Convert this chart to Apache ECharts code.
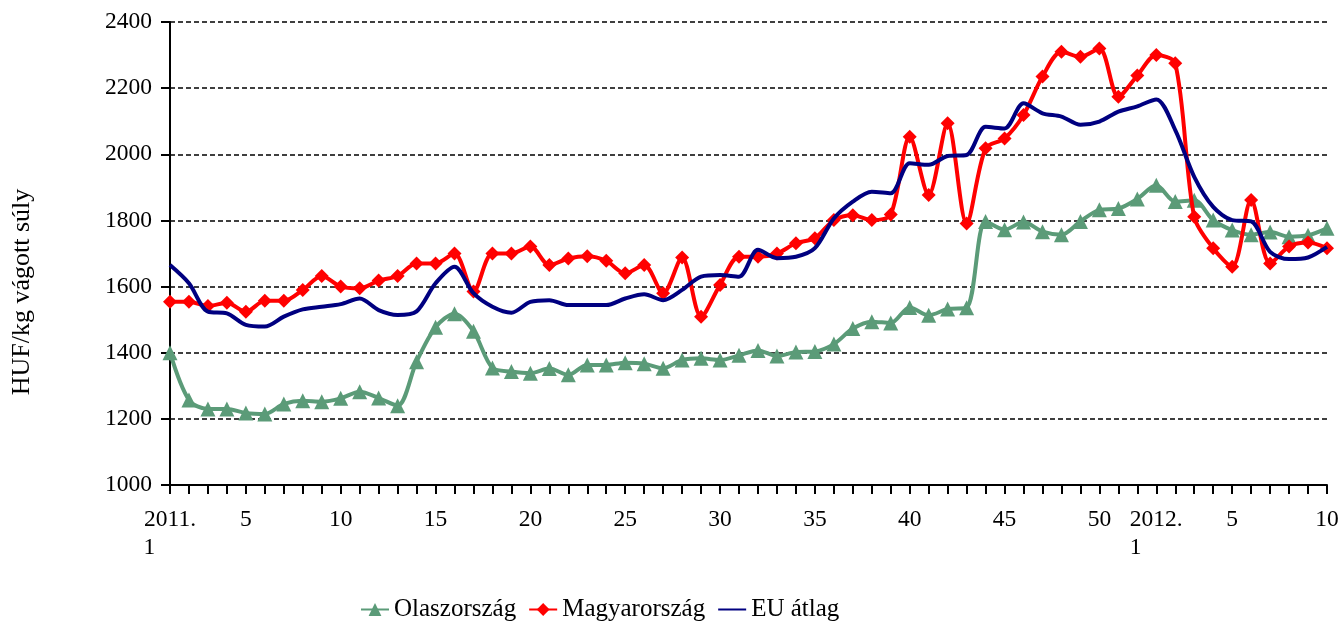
<!DOCTYPE html>
<html>
<head>
<meta charset="utf-8">
<script src="https://cdn.jsdelivr.net/npm/echarts@6/dist/echarts.min.js"></script>
<style>
html,body{margin:0;padding:0;background:#fff;}
#chart{width:1343px;height:621px;}
</style>
</head>
<body>
<div id="chart"></div>
<script>
// Week labels (2011 week 1 .. 2012 week 10), blank = unlabeled tick
var categories = [
'2011.\n1','','','','5','','','','','10',
'','','','','15','','','','','20',
'','','','','25','','','','','30',
'','','','','35','','','','','40',
'','','','','45','','','','','50',
'','','2012.\n1','','','','5','','','',
'','10'];

var seriesNames = ['Olaszország','Magyarország','EU átlag'];

var olaszorszag = [1400,1257,1230,1230,1218,1215,1245,1255,1252,1262,
1282,1263,1240,1373,1477,1518,1465,1354,1343,1338,
1352,1333,1363,1363,1370,1367,1353,1378,1383,1378,
1392,1407,1390,1402,1404,1426,1473,1494,1490,1537,
1513,1532,1536,1797,1772,1795,1766,1757,1797,1832,
1836,1865,1906,1857,1861,1801,1771,1757,1765,1751,
1755,1776];

var magyarorszag = [1554,1554,1541,1551,1524,1557,1557,1590,1632,1600,
1595,1618,1632,1670,1670,1700,1585,1700,1700,1721,
1665,1685,1692,1678,1640,1665,1580,1688,1509,1605,
1690,1690,1700,1731,1746,1801,1816,1801,1818,2053,
1877,2094,1791,2018,2048,2119,2235,2310,2295,2320,
2174,2238,2300,2275,1811,1716,1660,1862,1670,1721,
1733,1716];

var euAtlag = [1665,1610,1524,1519,1484,1479,1509,1531,1539,1547,
1564,1529,1514,1525,1610,1660,1580,1539,1521,1554,
1559,1544,1544,1544,1564,1577,1559,1590,1630,1635,
1630,1711,1686,1690,1716,1806,1857,1887,1882,1973,
1968,1995,1998,2083,2078,2154,2124,2114,2089,2099,
2129,2145,2166,2073,1932,1841,1801,1797,1705,1683,
1688,1720];

var yTitle = 'HUF/kg vágott súly';

var FONT = "'Liberation Serif','Times New Roman',serif";
var chart = echarts.init(document.getElementById('chart'));
chart.setOption({
  animation: false,
  backgroundColor: '#fff',
  textStyle: {fontFamily: FONT},
  grid: {left: 170, right: 16, top: 22, bottom: 136, containLabel: false},
  graphic: [{
    type: 'text', x: 22, y: 292, rotation: Math.PI / 2,
    style: {text: yTitle, font: '26px ' + FONT, fill: '#000', textAlign: 'center', textVerticalAlign: 'middle'}
  }],
  legend: {
    left: 355, top: 592,
    itemWidth: 28, itemHeight: 16, itemGap: 12,
    textStyle: {fontFamily: FONT, fontSize: 25, color: '#000'},
    data: [
      {name: seriesNames[0]},
      {name: seriesNames[1]},
      {name: seriesNames[2], itemStyle: {opacity: 0}}
    ]
  },
  xAxis: {
    type: 'category', data: categories, boundaryGap: false,
    axisLine: {lineStyle: {color: '#000', width: 2}},
    axisTick: {show: true, interval: 0, length: 9, lineStyle: {color: '#000', width: 2}},
    axisLabel: {
      interval: 0, margin: 21, color: '#000', fontFamily: FONT, fontSize: 23.5, lineHeight: 28,
      formatter: function (v) {
        if (v.indexOf('\n') >= 0) {
          var p = v.split('\n');
          return '{a|' + p[0] + '}\n{b|' + p[1] + '}';
        }
        return v;
      },
      rich: {
        a: {fontFamily: FONT, fontSize: 23.5, lineHeight: 28, color: '#000'},
        b: {fontFamily: FONT, fontSize: 23.5, lineHeight: 28, color: '#000', width: 53, align: 'left'}
      }
    },
    splitLine: {show: false}
  },
  yAxis: {
    type: 'value', min: 1000, max: 2400, interval: 200,
    axisLine: {show: true, lineStyle: {color: '#000', width: 2}},
    axisTick: {show: true, length: 9, lineStyle: {color: '#000', width: 2}},
    axisLabel: {margin: 18, color: '#000', fontFamily: FONT, fontSize: 23.5,
      formatter: function (v) { return String(v); }},
    splitLine: {show: true, lineStyle: {color: '#000', width: 1.5, type: [5, 3]}}
  },
  series: [
    {
      name: seriesNames[0], type: 'line', data: olaszorszag, smooth: 0.3,
      symbol: 'triangle', symbolSize: 15, showSymbol: true,
      itemStyle: {color: '#5B9B78'},
      lineStyle: {color: '#5B9B78', width: 4}, z: 2
    },
    {
      name: seriesNames[1], type: 'line', data: magyarorszag, smooth: 0.3,
      symbol: 'diamond', symbolSize: 14, showSymbol: true,
      itemStyle: {color: '#FF0000'},
      lineStyle: {color: '#FF0000', width: 4}, z: 3
    },
    {
      name: seriesNames[2], type: 'line', data: euAtlag, smooth: 0.3,
      symbol: 'none', showSymbol: false,
      itemStyle: {color: '#000080'},
      lineStyle: {color: '#000080', width: 4}, z: 4
    }
  ]
});
</script>
</body>
</html>
